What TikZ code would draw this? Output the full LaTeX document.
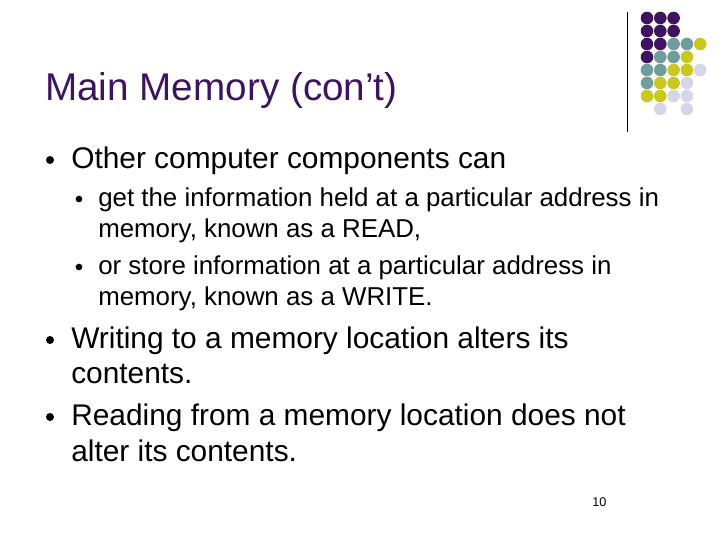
\documentclass[tikz,border=0pt]{standalone}
\usepackage{fontspec}
\setmainfont{Liberation Sans}
\usepackage{tikz}
\definecolor{dotP}{HTML}{3E1460}
\definecolor{dotT}{HTML}{6F9C9C}
\definecolor{dotY}{HTML}{C8C81E}
\definecolor{dotL}{HTML}{D6D6E8}
\definecolor{dotN}{HTML}{FFFFFF}
\definecolor{titleC}{HTML}{3E1460}
\tikzset{
  title/.style={anchor=base west, inner sep=0pt, text=titleC, font=\fontsize{29}{32}\selectfont},
  lvlone/.style={anchor=base west, inner sep=0pt, font=\fontsize{22.4}{26}\selectfont},
  lvltwo/.style={anchor=base west, inner sep=0pt, font=\fontsize{19.4}{22}\selectfont},
  bul/.style={circle, fill=black, inner sep=0pt, minimum size=#1}
}
\begin{document}
\begin{tikzpicture}[x=0.75pt,y=-0.75pt]
        \useasboundingbox (0,0) rectangle (720,540);
        % dots
        \foreach \row/\cols in {0/{P,P,P,N,N},1/{P,P,P,N,N},2/{P,P,T,T,Y},3/{P,T,T,Y,N},
                                4/{T,T,Y,Y,L},5/{T,Y,Y,L,N},6/{Y,Y,L,L,N},7/{N,L,N,L,N}}{
          \foreach \c [count=\i from 0] in \cols {
            \fill[dot\c] (647+13.3*\i,18+13*\row) circle (6.3);
          }
        }
        \draw[black] (627,12) -- (627,132);
        % title
        \node[title] (ttl) at (45,100) {Main Memory (con’t)};
        % bullets and text
        \node[bul=6pt] (b1) at (50,160) {};
        \node[lvlone] (t1) at (71,168) {Other computer components can};
        \node[bul=5pt] (b2) at (79,199) {};
        \node[lvltwo] (t2) at (98,206) {get the information held at a particular address in};
        \node[lvltwo] (t2b) at (98,237) {memory, known as a READ,};
        \node[bul=5pt] (b3) at (79,267) {};
        \node[lvltwo] (t3) at (98,274) {or store information at a particular address in};
        \node[lvltwo] (t3b) at (98,305) {memory, known as a WRITE.};
        \node[bul=6pt] (b4) at (50,340) {};
        \node[lvlone] (t4) at (71,348) {Writing to a memory location alters its};
        \node[lvlone] (t4b) at (71,383) {contents.};
        \node[bul=6pt] (b5) at (50,417) {};
        \node[lvlone] (t5) at (71,425) {Reading from a memory location does not};
        \node[lvlone] (t5b) at (71,461) {alter its contents.};
        % page number
        \node[anchor=base west, inner sep=0pt, font=\fontsize{9.5}{10}\selectfont] (pg) at (592,506) {10};
\end{tikzpicture}
\end{document}
